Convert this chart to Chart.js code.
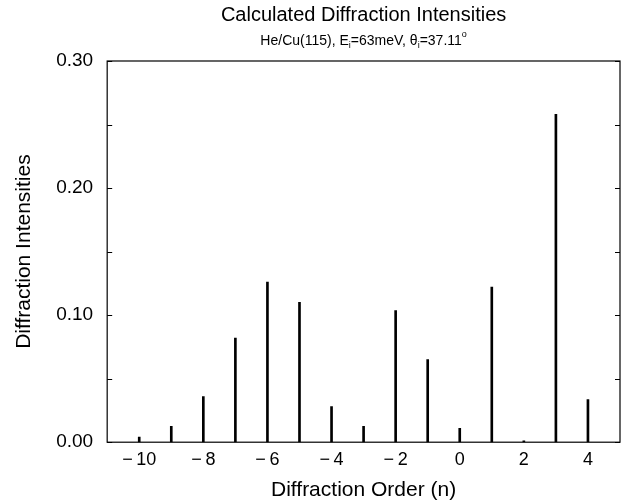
<!DOCTYPE html>
<html>
<head>
<meta charset="utf-8">
<script src="https://cdn.jsdelivr.net/npm/chart.js@4.4.1/dist/chart.umd.min.js"></script>
<style>
  html, body { margin: 0; background: #fff; }
  #wrap { width: 628px; height: 504px; }
</style>
</head>
<body>
<div id="wrap"><canvas id="diffChart"></canvas></div>
<script>
// diffraction orders and calculated intensities
const orders = [-10, -9, -8, -7, -6, -5, -4, -3, -2, -1, 0, 1, 2, 3, 4];
const intensities = [0.004, 0.0125, 0.036, 0.082, 0.126, 0.110, 0.028, 0.0125,
                     0.1035, 0.065, 0.011, 0.122, 0.001, 0.258, 0.0335];

// axis ticks
const yTicks = [0, 0.05, 0.10, 0.15, 0.20, 0.25, 0.30];
const yTickLabels = ['0.00', '', '0.10', '', '0.20', '', '0.30'];
const xTicks = [-10, -8, -6, -4, -2, 0, 2, 4];
const xTickLabels = ['\u2212\u200910', '\u2212\u20098', '\u2212\u20096', '\u2212\u20094', '\u2212\u20092', '0', '2', '4'];

const titleText = 'Calculated Diffraction Intensities';
const FONT = '"Liberation Sans", Arial, Helvetica, sans-serif';

// frame, inside ticks and the two title lines
const framePlugin = {
  id: 'frame',
  afterDatasetsDraw(chart) {
    const { ctx, chartArea: a, scales } = chart;
    ctx.save();
    ctx.strokeStyle = '#000';
    ctx.lineWidth = 1.2;
    ctx.strokeRect(a.left, a.top, a.right - a.left, a.bottom - a.top);
    ctx.beginPath();
    yTicks.forEach(v => {
      const py = Math.round(scales.y.getPixelForValue(v)) + 0.5;
      ctx.moveTo(a.left, py); ctx.lineTo(a.left + 5, py);
      ctx.moveTo(a.right, py); ctx.lineTo(a.right - 5, py);
    });
    ctx.stroke();

    // titles, centred over the plot box
    const cx = (a.left + a.right) / 2;
    ctx.fillStyle = '#000';
    ctx.textAlign = 'center';
    ctx.textBaseline = 'alphabetic';
    ctx.font = '20px ' + FONT;
    ctx.fillText(titleText, cx, 21);

    // subtitle with subscripts / superscript
    const parts = [
      ['He/Cu(115), E', 0], ['i', 1], ['=63meV, \u03b8', 0], ['i', 1], ['=37.11', 0], ['o', 2]
    ];
    const fontFor = k => (k === 0 ? '14px ' : '9px ') + FONT;
    let w = 0;
    parts.forEach(([t, k]) => { ctx.font = fontFor(k); w += ctx.measureText(t).width; });
    let x = cx - w / 2;
    const base = 45;
    ctx.textAlign = 'left';
    parts.forEach(([t, k]) => {
      ctx.font = fontFor(k);
      const dy = k === 1 ? 3 : (k === 2 ? -8 : 0);
      ctx.fillText(t, x, base + dy);
      x += ctx.measureText(t).width;
    });
    ctx.restore();
  }
};

const ctx = document.getElementById('diffChart');

new Chart(ctx, {
  type: 'bar',
  data: {
    datasets: [{
      label: 'Intensity',
      data: orders.map((n, i) => ({ x: n, y: intensities[i] })),
      backgroundColor: '#000',
      borderWidth: 0,
      barThickness: 2
    }]
  },
  options: {
    responsive: true,
    maintainAspectRatio: false,
    animation: false,
    layout: { padding: { top: 61, right: 8, bottom: 1, left: 12 } },
    plugins: {
      legend: { display: false },
      tooltip: { enabled: false },
      title: { display: false }
    },
    scales: {
      x: {
        type: 'linear',
        offset: false,
        min: -11,
        max: 5,
        grid: { display: false, drawTicks: false },
        border: { display: false },
        afterBuildTicks: s => { s.ticks = xTicks.map(v => ({ value: v })); },
        ticks: {
          color: '#000',
          padding: 7,
          maxRotation: 0,
          font: { family: FONT, size: 18 },
          callback: (v, i) => xTickLabels[i]
        },
        title: {
          display: true,
          text: 'Diffraction Order (n)',
          color: '#000',
          font: { family: FONT, size: 21 },
          padding: { top: 0, bottom: 0 }
        }
      },
      y: {
        min: 0,
        max: 0.30,
        grid: { display: false, drawTicks: false },
        border: { display: false },
        afterBuildTicks: s => { s.ticks = yTicks.map(v => ({ value: v })); },
        ticks: {
          color: '#000',
          padding: 14,
          font: { family: FONT, size: 19 },
          callback: (v, i) => yTickLabels[i]
        },
        title: {
          display: true,
          text: 'Diffraction Intensities',
          color: '#000',
          font: { family: FONT, size: 21 },
          padding: { top: 0, bottom: 5 }
        }
      }
    }
  },
  plugins: [framePlugin]
});
</script>
</body>
</html>
